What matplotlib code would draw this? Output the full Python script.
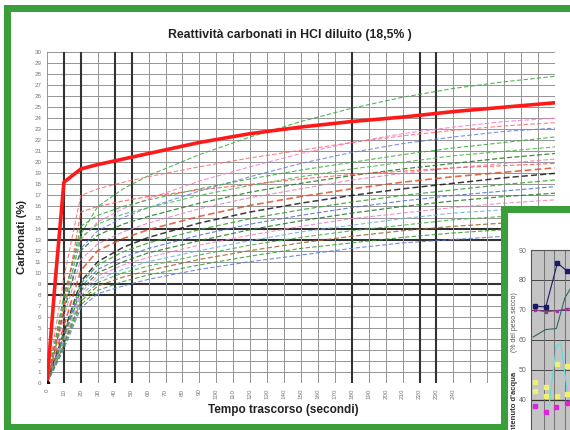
import matplotlib
matplotlib.use("Agg")
import matplotlib.pyplot as plt
from matplotlib.patches import Rectangle
import numpy as np

plt.rcParams['font.family'] = ['Liberation Sans', 'DejaVu Sans']

# ---------------- data (main chart) ----------------
title = "Reattività carbonati in HCl diluito (18,5% )"
xlabel = "Tempo trascorso (secondi)"
ylabel = "Carbonati (%)"

time_s = [0, 5, 10, 20, 30, 45, 60, 90, 120, 150, 180, 210, 240, 270, 300]
x_tick_values = list(range(0, 250, 10))
y_tick_values = list(range(0, 31))

red_main = [0, 9.5, 18.2, 19.4, 19.8, 20.3, 20.8, 21.8, 22.6, 23.2, 23.7, 24.1, 24.6, 25.0, 25.4]

c01 = [0, 4.0, 8.0, 13.5, 16.0, 17.6, 18.8, 20.7, 22.3, 23.7, 24.9, 25.9, 26.7, 27.3, 27.8]
c02 = [0, 3.6, 7.2, 13.0, 14.6, 15.8, 16.7, 18.3, 19.6, 20.8, 21.8, 22.6, 23.2, 23.7, 24.0]
c03 = [0, 4.8, 9.6, 17.0, 17.6, 18.2, 18.7, 19.6, 20.4, 21.1, 21.8, 22.4, 22.9, 23.3, 23.6]
c04 = [0, 3.4, 6.8, 12.2, 13.8, 15.0, 15.9, 17.4, 18.7, 19.9, 20.9, 21.7, 22.3, 22.8, 23.1]
c05 = [0, 3.8, 7.6, 14.2, 15.2, 16.0, 16.6, 17.6, 18.5, 19.3, 20.0, 20.7, 21.3, 21.8, 22.3]
c06 = [0, 3.5, 7.0, 13.2, 14.4, 15.3, 15.9, 17.0, 17.9, 18.7, 19.4, 20.0, 20.6, 21.0, 21.4]
c07 = [0, 3.2, 6.5, 12.0, 13.4, 14.4, 15.1, 16.3, 17.3, 18.1, 18.8, 19.4, 19.9, 20.4, 20.8]
c08 = [0, 3.0, 6.0, 11.2, 12.6, 13.7, 14.5, 15.8, 16.8, 17.6, 18.4, 19.0, 19.5, 19.9, 20.3]
c09 = [0, 3.4, 6.8, 15.5, 16.0, 16.5, 16.9, 17.5, 18.0, 18.5, 18.9, 19.2, 19.5, 19.7, 19.9]
c10 = [0, 2.6, 5.2, 10.2, 12.0, 13.1, 13.9, 15.1, 16.1, 16.9, 17.6, 18.2, 18.7, 19.1, 19.5]
c11 = [0, 2.3, 4.6, 9.2, 11.0, 12.3, 13.2, 14.5, 15.5, 16.3, 17.0, 17.6, 18.1, 18.6, 19.0]
c12 = [0, 2.2, 4.5, 9.0, 10.7, 11.9, 12.7, 13.9, 14.9, 15.7, 16.4, 17.0, 17.5, 18.0, 18.4]
c13 = [0, 2.1, 4.3, 8.7, 10.3, 11.4, 12.2, 13.4, 14.4, 15.2, 15.9, 16.5, 17.0, 17.4, 17.8]
c14 = [0, 2.0, 4.1, 8.4, 10.0, 11.0, 11.8, 12.9, 13.9, 14.7, 15.4, 16.0, 16.5, 16.9, 17.2]
c15 = [0, 2.0, 4.0, 8.2, 9.7, 10.7, 11.4, 12.5, 13.4, 14.2, 14.9, 15.4, 15.9, 16.3, 16.6]
c16 = [0, 1.9, 3.8, 7.9, 9.4, 10.3, 11.0, 12.0, 12.9, 13.7, 14.3, 14.9, 15.4, 15.7, 16.0]
c17 = [0, 1.8, 3.6, 7.6, 9.1, 10.0, 10.6, 11.6, 12.5, 13.2, 13.8, 14.3, 14.8, 15.1, 15.4]
c18 = [0, 1.7, 3.5, 7.4, 8.8, 9.6, 10.2, 11.2, 12.0, 12.7, 13.3, 13.8, 14.2, 14.5, 14.8]
c19 = [0, 1.6, 3.3, 7.1, 8.4, 9.2, 9.8, 10.7, 11.5, 12.2, 12.7, 13.2, 13.6, 13.9, 14.2]
c20 = [0, 1.5, 3.1, 6.8, 8.1, 8.8, 9.4, 10.3, 11.0, 11.6, 12.2, 12.7, 13.0, 13.3, 13.6]

dashed_series = [c01, c02, c03, c04, c05, c06, c07, c08, c09, c10,
                 c11, c12, c13, c14, c15, c16, c17, c18, c19, c20]
dashed_colors = ['#3aa63a', '#ff77cc', '#ff6a6a', '#6680dd', '#2fae2f', '#44b844',
                 '#1f7a1f', '#e080b0', '#ff5050', '#e0502a', '#1a1a1a', '#33a033',
                 '#4a6cd0', '#237a23', '#f07fc0', '#70aee0', '#3fb03f', '#9a6a30',
                 '#2a9a2a', '#5a7ad8']
dashed_widths = [0.8, 0.8, 0.8, 0.8, 0.8, 0.8, 0.9, 0.8, 0.8, 1.2,
                 1.1, 0.9, 0.8, 0.9, 0.8, 0.8, 0.8, 0.9, 0.8, 0.8]

thick_x = [10, 20, 40, 50, 180, 220, 230]
thick_y = [8, 9, 13, 14]

# ---------------- data (inset chart) ----------------
inset_ylabel_bold = "Contenuto d'acqua"
inset_ylabel_norm = "(% del peso secco)"
inset_yticks = [40, 50, 60, 70, 80, 90]
navy_x = [0.2, 1.2, 1.8, 2.3, 3.2, 4.2]
navy_y = [71.3, 71.0, 79.0, 85.7, 83.0, 80.0]
purple_x = [0.2, 1.2, 2.3, 3.2, 4.2]
purple_y = [70.0, 69.4, 69.8, 70.4, 70.6]
teal_x = [0.0, 1.2, 2.2, 3.0, 3.6]
teal_y = [61.0, 63.5, 63.8, 74.0, 77.5]
cyan_x = [1.5, 2.2, 2.6, 3.2, 3.8]
cyan_y = [38.0, 58.0, 59.0, 44.0, 36.0]
yellow_x = [0.2, 0.2, 1.2, 1.2, 2.3, 2.3, 3.2, 3.2]
yellow_y = [46.0, 43.0, 44.5, 41.5, 52.0, 41.5, 51.5, 42.0]
magenta_x = [0.2, 1.2, 2.2, 3.2]
magenta_y = [38.0, 36.0, 37.8, 39.0]

# ---------------- figure ----------------
W, H = 570, 430
fig = plt.figure(figsize=(W / 100, H / 100), dpi=100)
fig.patch.set_facecolor('white')

def fx(x):
    return x / W

def fy(y):
    return 1 - y / H

GREEN = '#3a9e3a'
frame_lw = 7 * 72 / 100

# main frame
fig.patches.append(Rectangle((fx(6.5), fy(426.5)), fx(650) - fx(6.5), fy(7.5) - fy(426.5),
                             transform=fig.transFigure, facecolor='white',
                             edgecolor=GREEN, linewidth=frame_lw, zorder=-5))

# main axes
ax = fig.add_axes([fx(47), fy(383), fx(555) - fx(47), fy(52) - fy(383)], zorder=0)
ax.set_xlim(0, 300)
ax.set_ylim(0, 30)
for s in ax.spines.values():
    s.set_visible(False)

for yv in range(0, 31):
    thick = yv in thick_y
    ax.axhline(yv, color='#333333' if thick else '#949494',
               lw=1.5 if thick else 0.7, zorder=1)
for xv in range(0, 310, 10):
    thick = xv in thick_x
    ax.axvline(xv, color='#333333' if thick else '#949494',
               lw=1.5 if thick else 0.7, zorder=1)

for ser, col, lw in zip(dashed_series, dashed_colors, dashed_widths):
    ax.plot(time_s, ser, color=col, lw=lw, ls=(0, (4, 2)), zorder=3, alpha=0.85)
ax.plot(time_s, red_main, color='#ff1a1a', lw=2.6, zorder=4, solid_capstyle='round')
ax.plot([0], [0], 'o', color='#111111', ms=3, zorder=5)

ax.set_xticks(x_tick_values)
ax.set_xticklabels([str(v) for v in x_tick_values], rotation=90, fontsize=4.5, color='#777777')
ax.set_yticks(y_tick_values)
ax.set_yticklabels([str(v) for v in y_tick_values], fontsize=4.5, color='#777777')
ax.tick_params(length=0, pad=4)

fig.text(fx(290), fy(35), title, ha='center', va='center', fontsize=8.8, fontweight='bold',
         color='#222222')
fig.text(fx(283), fy(410), xlabel, ha='center', va='center', fontsize=8.5, fontweight='bold',
         color='#222222')
fig.text(fx(22), fy(237), ylabel, ha='center', va='center', rotation=90, fontsize=8.2,
         fontweight='bold', color='#222222')

# inset frame
fig.patches.append(Rectangle((fx(503.5), fy(700)), fx(700) - fx(503.5), fy(208.5) - fy(700),
                             transform=fig.transFigure, facecolor='white',
                             edgecolor=GREEN, linewidth=frame_lw, zorder=5))

ax2 = fig.add_axes([fx(531), fy(520), fx(700) - fx(531), fy(250) - fy(520)], zorder=6)
ax2.set_facecolor('#c4c4c4')
ax2.set_xlim(-0.2, 15.8)
ax2.set_ylim(0, 90)
for s in ax2.spines.values():
    s.set_color('#555555')
    s.set_linewidth(0.8)
for yv in inset_yticks:
    ax2.axhline(yv, color='#333333', lw=0.9 if yv == 40 else 0.6, zorder=1)
for xv in [1, 2, 3, 4, 5]:
    ax2.axvline(xv, color='#666666', lw=0.6, zorder=1)
ax2.plot(teal_x, teal_y, color='#336666', lw=0.8, zorder=3)
ax2.plot(cyan_x, cyan_y, color='#66dddd', lw=0.9, zorder=3)
ax2.plot(purple_x, purple_y, color='#993399', lw=0.8, marker='s', ms=2, zorder=3)
ax2.plot(navy_x, navy_y, color='#1a1a66', lw=0.8, zorder=4)
ax2.plot([navy_x[0], navy_x[1], navy_x[3], navy_x[4]],
         [navy_y[0], navy_y[1], navy_y[3], navy_y[4]], 's', color='#1a1a66', ms=2.5, zorder=4)
ax2.plot(yellow_x, yellow_y, 's', color='#f0f070', ms=3, zorder=4)
ax2.plot(magenta_x, magenta_y, 's', color='#dd22dd', ms=3, zorder=4)
ax2.set_xticks([])
ax2.set_yticks(inset_yticks)
ax2.set_yticklabels([str(v) for v in inset_yticks], fontsize=5, color='#666666')
ax2.tick_params(length=0, pad=3)

fig.text(fx(514), fy(372), inset_ylabel_bold, ha='center', va='top', rotation=90,
         fontsize=5.5, fontweight='bold', color='#333333', zorder=7)
fig.text(fx(515), fy(352), inset_ylabel_norm, ha='center', va='bottom', rotation=90,
         fontsize=5, color='#555555', zorder=7)

fig.savefig('out.png', dpi=100, facecolor='white')
